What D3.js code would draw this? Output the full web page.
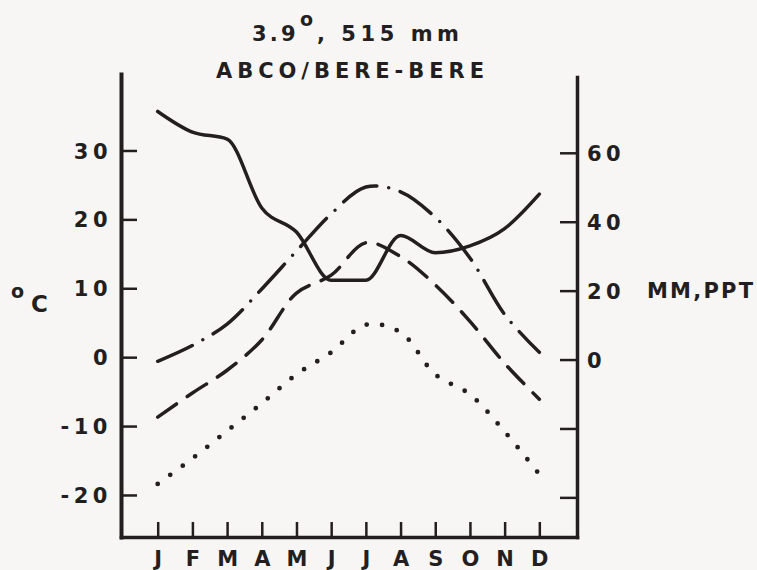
<!DOCTYPE html>
<html>
<head>
<meta charset="utf-8">
<script src="https://cdn.jsdelivr.net/npm/d3@7"></script>
<style>
  html, body { margin: 0; padding: 0; background: #f8f6f5; }
  svg { display: block; }
  text { font-family: "DejaVu Sans", sans-serif; font-weight: bold; fill: #231f20; }
</style>
</head>
<body>
<svg id="chart" width="757" height="570"></svg>
<script>
// Monthly climate normals for the station
const months = ["J", "F", "M", "A", "M", "J", "J", "A", "S", "O", "N", "D"];
const precipMM = [72, 66, 64, 44, 37, 23, 23, 36, 31, 33, 38, 48];              // solid line, right axis
const tempMax  = [-0.6, 1.7, 4.8, 9.9, 15.4, 20.8, 24.7, 24.0, 20.3, 14.4, 6.2, 0.7];   // dash-dot
const tempMean = [-8.7, -5.2, -1.9, 2.5, 9.3, 11.9, 16.6, 14.6, 10.5, 5.2, -0.9, -6.1]; // dashed
const tempMin  = [-18.4, -14.7, -10.7, -6.7, -2.5, 0.7, 4.7, 3.6, -2.5, -5.4, -10.8, -17.0]; // dotted
const tempTicks = [30, 20, 10, 0, -10, -20];
const precipTicks = [60, 40, 20, 0, -20, -40];
const precipLabelled = [60, 40, 20, 0];
const titleMain = "3.9";
const titleDegree = "o";
const titleRest = ", 515 mm";
const stationName = "ABCO/BERE-BERE";
const tempUnitDeg = "o";
const tempUnit = "C";
const precipUnit = "MM,PPT";

const ink = "#231f20";
const svg = d3.select("#chart");

// Frame geometry
const left = 121, right = 577, bottom = 537, topL = 74, topR = 77;

// Month positions: January sits ~1.06 steps in from the left frame, December ~1.09 steps from the right
const x = d3.scaleLinear().domain([-1.058, 12.086]).range([left, right]);
const yT = d3.scaleLinear().domain([-26.1, 41.1]).range([bottom, topL]);
const yP = d3.scaleLinear().domain([-51.5, 82]).range([bottom, topR]);

function styleAxis(g, domainWidth, tickWidth) {
  g.select(".domain").attr("stroke", ink).attr("stroke-width", domainWidth).attr("stroke-linecap", "square");
  g.selectAll(".tick line").attr("stroke", ink).attr("stroke-width", tickWidth);
  g.selectAll(".tick text").attr("fill", ink).attr("font-family", null).attr("font-size", null);
}

// Left temperature axis (ticks pointing inward)
const gL = svg.append("g")
  .attr("transform", `translate(${left},0)`)
  .call(d3.axisLeft(yT).tickValues(tempTicks).tickFormat(d => String(d))
    .tickSize(-16).tickSizeOuter(0).tickPadding(9));
styleAxis(gL, 4, 2.5);
gL.selectAll(".tick text").style("font-size", "21px").style("letter-spacing", "4.5px").attr("dy", "0.36em");

// Right precipitation axis
const gR = svg.append("g")
  .attr("transform", `translate(${right},0)`)
  .call(d3.axisRight(yP).tickValues(precipTicks)
    .tickFormat(d => precipLabelled.includes(d) ? String(d) : "")
    .tickSize(-17).tickSizeOuter(0).tickPadding(10));
styleAxis(gR, 3.5, 2.5);
gR.selectAll(".tick text").style("font-size", "21px").style("letter-spacing", "4.5px").attr("dy", "0.36em");

// Month axis along the bottom
const gB = svg.append("g")
  .attr("transform", `translate(0,${bottom})`)
  .call(d3.axisBottom(x).tickValues(d3.range(months.length)).tickFormat(i => months[i])
    .tickSize(-15).tickSizeOuter(0).tickPadding(14));
styleAxis(gB, 3.5, 2.5);
gB.selectAll(".tick text").style("font-size", "21px");

// Series lines
const idx = d3.range(months.length);
const tempLine = vals => d3.line().x(i => x(i)).y(i => yT(vals[i])).curve(d3.curveCatmullRom.alpha(0.5))(idx);
const precipLine = d3.line().x(i => x(i)).y(i => yP(precipMM[i])).curve(d3.curveMonotoneX)(idx);

const lineG = svg.append("g").attr("fill", "none").attr("stroke", ink).attr("stroke-linecap", "round").attr("stroke-linejoin", "round");
lineG.append("path").attr("d", tempLine(tempMin)).attr("stroke-width", 4.8).attr("stroke-dasharray", "0 15.5");
lineG.append("path").attr("d", tempLine(tempMean)).attr("stroke-width", 3.5).attr("stroke-dasharray", "23 13");
lineG.append("path").attr("d", tempLine(tempMax)).attr("stroke-width", 3.5).attr("stroke-dasharray", "38 12 0 12");
lineG.append("path").attr("d", precipLine).attr("stroke-width", 3.5);

// Title
const t1 = svg.append("text").style("font-size", "21px");
t1.append("tspan").attr("x", 252).attr("y", 40.7).style("letter-spacing", "3.2px").text(titleMain);
t1.append("tspan").attr("x", 300).attr("y", 25.5).style("font-size", "19px").text(titleDegree);
t1.append("tspan").attr("x", 317).attr("y", 40.7).attr("textLength", 142).attr("lengthAdjust", "spacing").text(titleRest);

svg.append("text").attr("x", 350).attr("y", 77.7).attr("text-anchor", "middle")
  .attr("textLength", 268).attr("lengthAdjust", "spacing")
  .style("font-size", "21px").text(stationName);

// Axis unit labels
const tu = svg.append("text");
tu.append("tspan").attr("x", 11).attr("y", 298).style("font-size", "19px").text(tempUnitDeg);
tu.append("tspan").attr("x", 31).attr("y", 311.5).style("font-size", "23px").text(tempUnit);

svg.append("text").attr("x", 647).attr("y", 297.5)
  .attr("textLength", 106).attr("lengthAdjust", "spacing")
  .style("font-size", "21px").text(precipUnit);
</script>
</body>
</html>
